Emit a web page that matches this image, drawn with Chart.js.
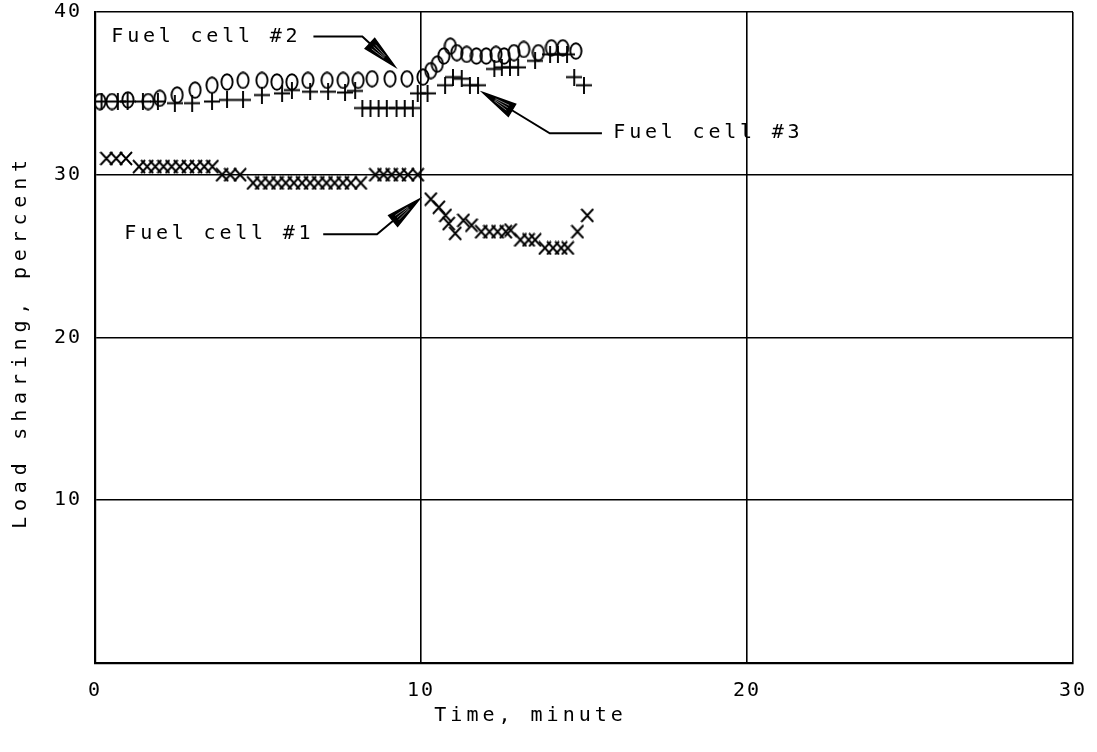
<!DOCTYPE html>
<html>
<head>
<meta charset="utf-8">
<script src="https://cdn.jsdelivr.net/npm/chart.js@4/dist/chart.umd.min.js"></script>
<style>
  html, body { margin: 0; padding: 0; background: #fff; }
  #wrap { position: relative; width: 1097px; height: 752px; }
</style>
</head>
<body>
<div id="wrap"><canvas id="c"></canvas></div>
<script>
// ---- data ----
const xTicks = [0, 10, 20, 30];
const yTicks = [10, 20, 30, 40];

// Fuel cell #1 (x markers)
const fc1Time = [0.35,0.65,0.95,
  1.35,1.6,1.85,2.1,2.35,2.6,2.85,3.1,3.35,3.6,
  3.9,4.15,4.45,
  4.85,5.1,5.35,5.6,5.85,6.1,6.35,6.6,6.85,7.1,7.35,7.6,7.85,8.15,
  8.6,8.85,9.1,9.35,9.6,9.9,
  10.3,10.55,10.75,10.85,11.05,11.3,11.55,11.85,12.1,12.35,12.6,12.75,
  13.05,13.3,13.5,13.8,14.05,14.3,14.5,14.8,15.1];
const fc1Load = [31,31,31,
  30.5,30.5,30.5,30.5,30.5,30.5,30.5,30.5,30.5,30.5,
  30,30,30,
  29.5,29.5,29.5,29.5,29.5,29.5,29.5,29.5,29.5,29.5,29.5,29.5,29.5,29.5,
  30,30,30,30,30,30,
  28.5,28,27.5,27,26.4,27.2,26.9,26.5,26.5,26.5,26.5,26.6,
  26,26,26,25.5,25.5,25.5,25.5,26.5,27.5];

// Fuel cell #2 (o markers)
const fc2Time = [0.15,0.52,1.01,1.63,1.99,2.52,3.07,3.59,4.05,4.54,5.12,5.58,6.04,6.53,7.12,7.61,8.07,8.5,9.05,9.57,10.06,
  10.3,10.5,10.7,10.9,11.1,11.4,11.7,12.0,12.3,12.55,12.85,13.15,13.6,14.0,14.35,14.75];
const fc2Load = [34.5,34.5,34.6,34.5,34.7,34.9,35.2,35.5,35.7,35.8,35.8,35.7,35.7,35.8,35.8,35.8,35.8,35.9,35.9,35.9,36.0,
  36.4,36.8,37.3,37.9,37.5,37.4,37.3,37.3,37.4,37.3,37.5,37.7,37.5,37.8,37.8,37.6];

// Fuel cell #3 (+ markers)
const fc3Time = [0.2,0.7,1.0,1.47,1.93,2.45,2.98,3.59,4.05,4.54,5.12,5.74,6.04,6.6,7.15,7.67,7.98,
  8.2,8.45,8.7,8.95,9.25,9.5,9.75,
  9.9,10.2,10.74,10.98,11.25,11.5,11.75,12.25,12.48,12.73,12.98,13.5,13.96,14.2,14.48,14.7,15.0];
const fc3Load = [34.5,34.5,34.5,34.5,34.5,34.4,34.4,34.5,34.6,34.6,34.9,35.0,35.2,35.1,35.1,35.05,35.15,
  34.1,34.1,34.1,34.1,34.1,34.1,34.1,
  35.0,35.0,35.5,36.0,35.9,35.5,35.5,36.5,36.6,36.6,36.6,37.0,37.4,37.4,37.4,36.0,35.5];

const labels = ['Fuel cell #1', 'Fuel cell #2', 'Fuel cell #3'];
const xTitle = 'Time, minute';
const yTitle = 'Load sharing, percent';

// ---- marker images ----
function mk(w, h, draw) {
  const c = document.createElement('canvas');
  c.width = w; c.height = h;
  const g = c.getContext('2d');
  g.strokeStyle = '#000'; g.lineWidth = 1.9;
  g.beginPath(); draw(g); g.stroke();
  return c;
}
const imgX = mk(14, 15, g => { g.moveTo(1,1); g.lineTo(13,14); g.moveTo(13,1); g.lineTo(1,14); });
const imgPlus = mk(16, 17, g => { g.moveTo(8,0); g.lineTo(8,17); g.moveTo(0,8.5); g.lineTo(16,8.5); });
const imgO = mk(14, 18, g => { g.ellipse(7, 9, 5.6, 7.8, 0, 0, Math.PI*2); });

const pts = (t, v) => t.map((x, i) => ({x, y: v[i]}));

const FONT = '"DejaVu Sans Mono", monospace';

function arrow(ctx, pts2, tip) {
  const [px, py] = pts2[pts2.length - 1];
  const dx = tip[0] - px, dy = tip[1] - py;
  const L = Math.hypot(dx, dy), ux = dx / L, uy = dy / L;
  const hl = 34, hw = 7;
  const bx = tip[0] - ux * hl, by = tip[1] - uy * hl;
  ctx.beginPath();
  ctx.moveTo(pts2[0][0], pts2[0][1]);
  for (let i = 1; i < pts2.length; i++) ctx.lineTo(pts2[i][0], pts2[i][1]);
  ctx.lineTo(bx, by);
  ctx.lineWidth = 2; ctx.strokeStyle = '#000'; ctx.stroke();
  ctx.beginPath();
  ctx.moveTo(tip[0], tip[1]);
  ctx.lineTo(bx - uy * hw, by + ux * hw);
  ctx.lineTo(bx + uy * hw, by - ux * hw);
  ctx.closePath();
  ctx.fillStyle = '#000'; ctx.fill();
  ctx.lineWidth = 1.5; ctx.stroke();
  ctx.beginPath();
  for (const f of [-0.4, 0.0, 0.4]) {
    ctx.moveTo(bx + ux * 5 - uy * hw * f, by + uy * 5 + ux * hw * f);
    ctx.lineTo(bx + ux * 20 - uy * hw * f * 0.45, by + uy * 20 + ux * hw * f * 0.45);
  }
  ctx.strokeStyle = '#9a9a9a'; ctx.lineWidth = 0.8; ctx.stroke();
}

const annot = {
  id: 'annot',
  beforeDraw(chart) { chart.ctx.letterSpacing = '2px'; },
  afterDraw(chart) {
    const ctx = chart.ctx, xs = chart.scales.x, ys = chart.scales.y;
    const X = v => xs.getPixelForValue(v), Y = v => ys.getPixelForValue(v);
    const ca = chart.chartArea;
    ctx.save();
    ctx.fillStyle = '#000';
    ctx.font = '20px ' + FONT;
    ctx.textBaseline = 'middle';
    ctx.letterSpacing = '3.8px';
    ctx.textAlign = 'left';
    // Fuel cell #2
    ctx.fillText(labels[1], X(0.5), Y(38.5));
    arrow(ctx, [[X(6.7), Y(38.5)], [X(8.2), Y(38.5)]], [X(9.2), Y(36.65)]);
    // Fuel cell #3
    ctx.fillText(labels[2], X(15.9), Y(32.55));
    arrow(ctx, [[X(15.55), Y(32.55)], [X(13.95), Y(32.55)]], [X(11.9), Y(35.05)]);
    // Fuel cell #1
    ctx.fillText(labels[0], X(0.9), Y(26.35));
    arrow(ctx, [[X(7.0), Y(26.35)], [X(8.65), Y(26.35)]], [X(9.95), Y(28.5)]);
    // axis titles
    ctx.letterSpacing = '4px';
    ctx.textAlign = 'center';
    ctx.fillText(xTitle, X(13.3) + 2, ca.bottom + 53);
    ctx.translate(21, (ca.top + ca.bottom) / 2 + 4);
    ctx.rotate(-Math.PI / 2);
    ctx.letterSpacing = '5.8px';
    ctx.fillText(yTitle, 0, 0);
    ctx.restore();
  }
};

new Chart(document.getElementById('c'), {
  type: 'scatter',
  data: {
    datasets: [
      { label: labels[1], data: pts(fc2Time, fc2Load), pointStyle: imgO, showLine: false },
      { label: labels[2], data: pts(fc3Time, fc3Load), pointStyle: imgPlus, showLine: false },
      { label: labels[0], data: pts(fc1Time, fc1Load), pointStyle: imgX, showLine: false }
    ]
  },
  options: {
    responsive: true,
    maintainAspectRatio: false,
    animation: false,
    events: [],
    layout: { padding: { top: 12, right: 24, left: 0, bottom: 0 } },
    plugins: { legend: { display: false }, tooltip: { enabled: false } },
    scales: {
      x: {
        type: 'linear', min: 0, max: 30,
        afterBuildTicks: s => { s.ticks = xTicks.map(v => ({value: v})); },
        afterFit: s => { s.height = 89; s.paddingLeft = 0; s.paddingRight = 0; },
        ticks: { color: '#000', font: { family: FONT, size: 20 }, padding: 16, maxRotation: 0 },
        grid: { color: '#000', lineWidth: 1.6, drawTicks: false },
        border: { color: '#000', width: 2.2 }
      },
      y: {
        type: 'linear', min: 0, max: 40,
        afterBuildTicks: s => { s.ticks = [0].concat(yTicks).map(v => ({value: v})); },
        afterFit: s => { s.width = 95; s.paddingTop = 0; s.paddingBottom = 0; },
        ticks: { color: '#000', font: { family: FONT, size: 20 }, padding: 13,
                 callback: v => (yTicks.includes(v) ? String(v) : '') },
        grid: { color: '#000', lineWidth: 1.6, drawTicks: false },
        border: { color: '#000', width: 2.2 }
      }
    }
  },
  plugins: [annot]
});
</script>
</body>
</html>
